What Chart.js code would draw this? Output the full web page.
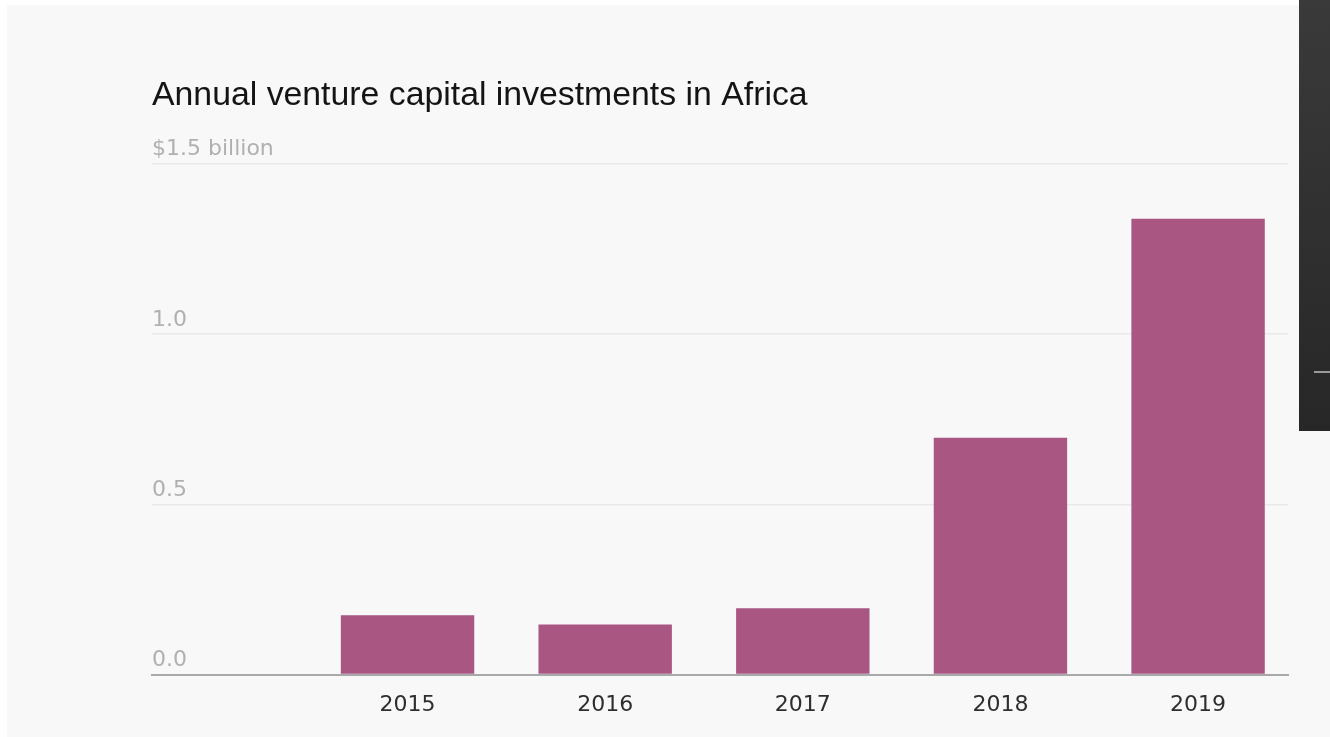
<!DOCTYPE html>
<html lang="en">
<head>
  <meta charset="UTF-8">
  <title>Annual venture capital investments in Africa</title>
  <script src="https://cdn.jsdelivr.net/npm/chart.js"></script>
  <style>
    html, body {
      margin: 0;
      padding: 0;
      background: #fff;
      width: 1330px;
      height: 737px;
      overflow: hidden;
    }

    .card {
      position: absolute;
      left: 7px;
      top: 5px;
      width: 1323px;
      height: 732px;
      background: #f8f8f8;
    }

    /* dark side panel on the right edge */
    .side {
      position: absolute;
      left: 1299px;
      top: 0;
      width: 31px;
      height: 431px;
      background: linear-gradient(#3a3a3a, #272727);
    }

    .side .notch {
      position: absolute;
      left: 15px;
      top: 371px;
      width: 16px;
      height: 2px;
      background: #9a9a9a;
    }
  </style>
</head>
<body>
  <div class="card">
    <canvas id="vcChart" width="1323" height="732"></canvas>
  </div>
  <div class="side"><div class="notch"></div></div>

  <script>
    // Annual VC investment, billions of US dollars
    const years = [2015, 2016, 2017, 2018, 2019];
    const investments = [0.174, 0.147, 0.195, 0.695, 1.338];

    const yTickValues = [0, 0.5, 1.0, 1.5];
    const yTickLabels = ['0.0', '0.5', '1.0', '$1.5 billion'];

    const barColor = '#a95683';

    const ctx = document.getElementById('vcChart').getContext('2d');
    const vcChart = new Chart(ctx, {
      type: 'bar',
      data: {
        datasets: [{
          data: years.map((yr, i) => ({ x: yr, y: investments[i] })),
          backgroundColor: barColor,
          borderWidth: 0,
          barPercentage: 0.675,
          categoryPercentage: 1
        }]
      },
      options: {
        responsive: false,
        animation: false,
        layout: {
          padding: { left: 145, right: 42, top: 0, bottom: 2 }
        },
        plugins: {
          legend: { display: false },
          tooltip: { enabled: false },
          title: {
            display: true,
            text: 'Annual venture capital investments in Africa',
            align: 'start',
            color: '#141414',
            font: { family: 'Liberation Sans', size: 33.8, weight: 'normal' },
            padding: { top: 70, bottom: 48 }
          }
        },
        scales: {
          x: {
            type: 'linear',
            offset: false,
            min: 2013.707,
            max: 2019.455,
            afterBuildTicks: scale => {
              scale.ticks = years.map(v => ({ value: v }));
            },
            grid: { display: false, drawTicks: false },
            border: { display: true, color: '#a9a9a9', width: 2 },
            ticks: {
              autoSkip: false,
              maxRotation: 0,
              padding: 17,
              color: '#2e2e2e',
              font: { family: 'DejaVu Sans', size: 22 },
              callback: v => String(v)
            }
          },
          y: {
            min: 0,
            max: 1.5,
            afterBuildTicks: scale => {
              scale.ticks = yTickValues.map(v => ({ value: v }));
            },
            grid: { color: '#e9e9e9', lineWidth: 1.5, drawTicks: false },
            border: { display: false },
            ticks: {
              mirror: true,
              padding: 0,
              labelOffset: -14,
              color: '#b0b0b0',
              font: { family: 'DejaVu Sans', size: 22 },
              callback: v => yTickLabels[yTickValues.indexOf(v)]
            }
          }
        }
      }
    });
  </script>
</body>
</html>
